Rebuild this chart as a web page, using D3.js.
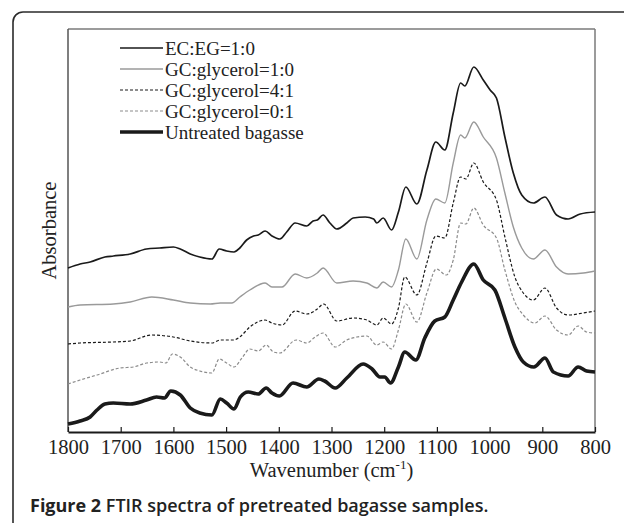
<!DOCTYPE html>
<html>
<head>
<meta charset="utf-8">
<script src="https://cdn.jsdelivr.net/npm/d3@7"></script>
<style>
  body { margin: 0; background: #fff; }
  svg { display: block; }
</style>
</head>
<body>
<script>
// FTIR spectra, absorbance in arbitrary units (curves stacked with offsets)
var seriesNames = ["EC:EG=1:0", "GC:glycerol=1:0", "GC:glycerol=4:1", "GC:glycerol=0:1", "Untreated bagasse"];

var ecegWn = [1800,1777,1758,1730,1714,1682,1651,1626,1600,1587,1568,1550,1527,1513,1499,1485,1474,1461,1448,1439,1426,1413,1398,1385,1369,1347,1335,1327,1316,1303,1290,1271,1259,1236,1220,1214,1202,1186,1173,1159,1138,1119,1102,1085,1069,1055,1047,1030,1012,999,987,971,955,939,917,895,873,851,828,800];
var ecegAbs = [1.64,1.68,1.70,1.75,1.76,1.78,1.83,1.84,1.85,1.83,1.78,1.75,1.73,1.83,1.81,1.80,1.84,1.92,1.96,1.97,2.01,1.96,1.93,2.00,2.09,2.06,2.11,2.12,2.17,2.09,2.03,2.09,2.14,2.15,2.13,2.09,2.14,2.02,2.20,2.45,2.28,2.62,2.90,2.82,3.19,3.49,3.46,3.65,3.52,3.42,3.34,2.95,2.59,2.37,2.29,2.35,2.17,2.13,2.18,2.20];

var gc10Wn = [1800,1777,1714,1682,1641,1600,1568,1530,1511,1489,1474,1455,1426,1413,1394,1369,1347,1327,1316,1290,1259,1233,1214,1202,1186,1173,1159,1138,1119,1102,1085,1069,1055,1047,1030,1012,987,971,955,939,917,895,873,851,822,800];
var gc10Abs = [1.25,1.27,1.28,1.30,1.35,1.32,1.29,1.28,1.29,1.29,1.35,1.42,1.49,1.45,1.45,1.58,1.54,1.59,1.64,1.49,1.51,1.49,1.44,1.50,1.45,1.62,1.93,1.73,2.12,2.33,2.29,2.69,2.97,2.94,3.10,2.95,2.74,2.39,2.05,1.84,1.73,1.82,1.65,1.58,1.59,1.61];

var gc41Wn = [1800,1777,1714,1682,1641,1600,1568,1527,1511,1486,1474,1455,1426,1413,1394,1369,1347,1327,1315,1290,1259,1233,1214,1202,1186,1173,1161,1138,1119,1102,1085,1069,1055,1045,1030,1012,987,971,952,936,917,895,873,851,822,800];
var gc41Abs = [0.88,0.89,0.90,0.91,0.97,0.95,0.91,0.89,0.92,0.92,0.95,1.05,1.12,1.09,1.07,1.21,1.18,1.23,1.28,1.11,1.14,1.12,1.07,1.14,1.08,1.24,1.55,1.37,1.69,1.96,1.94,2.29,2.55,2.53,2.69,2.50,2.32,1.95,1.55,1.39,1.32,1.44,1.24,1.17,1.19,1.21];

var gc01Wn = [1800,1777,1745,1701,1676,1651,1626,1614,1602,1587,1568,1550,1527,1513,1499,1485,1470,1455,1439,1424,1410,1398,1367,1347,1331,1316,1293,1271,1252,1233,1214,1202,1186,1173,1159,1138,1119,1101,1082,1069,1055,1045,1030,1012,987,971,952,936,914,895,873,851,832,816,800];
var gc01Abs = [0.48,0.52,0.57,0.64,0.65,0.69,0.70,0.69,0.78,0.75,0.65,0.61,0.59,0.73,0.69,0.65,0.74,0.83,0.81,0.87,0.80,0.79,0.92,0.89,0.95,0.99,0.85,0.92,0.95,0.96,0.87,0.90,0.83,1.02,1.28,1.10,1.39,1.63,1.57,1.72,2.09,2.08,2.24,2.07,1.94,1.62,1.30,1.17,1.09,1.16,1.02,0.97,1.06,1.00,0.99];

var rawWn = [1800,1777,1758,1745,1730,1714,1682,1651,1632,1617,1605,1587,1568,1550,1527,1511,1499,1485,1473,1458,1439,1424,1413,1399,1373,1347,1324,1313,1293,1271,1240,1223,1208,1199,1188,1173,1161,1140,1123,1104,1085,1069,1053,1030,1012,990,971,952,936,916,895,879,851,832,816,800];
var rawAbs = [0.08,0.11,0.15,0.22,0.28,0.29,0.28,0.32,0.35,0.34,0.41,0.37,0.24,0.19,0.17,0.33,0.29,0.23,0.35,0.40,0.38,0.44,0.39,0.36,0.49,0.45,0.53,0.51,0.44,0.54,0.68,0.63,0.55,0.55,0.49,0.65,0.80,0.72,0.94,1.11,1.15,1.32,1.50,1.68,1.52,1.42,1.14,0.85,0.70,0.65,0.74,0.60,0.56,0.65,0.61,0.60];

var xTicks = [1800,1700,1600,1500,1400,1300,1200,1100,1000,900,800];

var W = 624, H = 523;
var pLeft = 68, pRight = 595, pTop = 29, pBottom = 432;
var serif = "'Liberation Serif', 'Times New Roman', serif";

var svg = d3.select("body").append("svg").attr("width", W).attr("height", H);
svg.append("rect").attr("width", W).attr("height", H).attr("fill", "#fff");

// rounded figure border, runs off the right and bottom edge
svg.append("rect")
  .attr("x", 13).attr("y", 12).attr("width", 700).attr("height", 520)
  .attr("rx", 10)
  .attr("fill", "none").attr("stroke", "#2b2b2b").attr("stroke-width", 1.6);

var x = d3.scaleLinear().domain([1800, 800]).range([pLeft, pRight]);
var y = d3.scaleLinear().domain([0, 4.03]).range([pBottom, pTop]);

// plot frame
svg.append("line").attr("x1", pLeft).attr("y1", pTop).attr("x2", pRight).attr("y2", pTop)
  .attr("stroke", "#7a7a7a").attr("stroke-width", 1.5);
svg.append("line").attr("x1", pRight).attr("y1", pTop).attr("x2", pRight).attr("y2", pBottom)
  .attr("stroke", "#7a7a7a").attr("stroke-width", 1.5);
svg.append("line").attr("x1", pLeft).attr("y1", pTop).attr("x2", pLeft).attr("y2", pBottom)
  .attr("stroke", "#555").attr("stroke-width", 1.5);

var xAxis = d3.axisBottom(x).tickValues(xTicks).tickFormat(d3.format("d"))
  .tickSizeInner(-5).tickSizeOuter(0).tickPadding(7);
var gx = svg.append("g").attr("transform", "translate(0," + pBottom + ")").call(xAxis);
gx.select(".domain").attr("stroke", "#1a1a1a").attr("stroke-width", 2);
gx.selectAll(".tick line").attr("stroke", "#1a1a1a").attr("stroke-width", 1.2);
gx.selectAll(".tick text")
  .attr("font-family", serif)
  .attr("font-size", 20.5).attr("fill", "#222");

var line = d3.line()
  .x(function (d) { return x(d[0]); })
  .y(function (d) { return y(d[1]); })
  .curve(d3.curveMonotoneX);

var allWn = [ecegWn, gc10Wn, gc41Wn, gc01Wn, rawWn];
var allAbs = [ecegAbs, gc10Abs, gc41Abs, gc01Abs, rawAbs];
var colors = ["#1a1a1a", "#9a9a9a", "#1a1a1a", "#8c8c8c", "#1a1a1a"];
var widths = [1.7, 1.4, 1.2, 1.2, 3.6];
var dashes = [null, null, "3,2", "3,2", null];

var plot = svg.append("g");
allWn.forEach(function (wn, i) {
  var pts = wn.map(function (w, j) { return [w, allAbs[i][j]]; });
  plot.append("path")
    .attr("d", line(pts))
    .attr("fill", "none")
    .attr("stroke", colors[i])
    .attr("stroke-width", widths[i])
    .attr("stroke-dasharray", dashes[i])
    .attr("stroke-linejoin", "round");
});

// legend
var legY = 48, legStep = 21;
var leg = svg.append("g");
seriesNames.forEach(function (name, i) {
  var ly = legY + legStep * i;
  leg.append("line")
    .attr("x1", 120).attr("x2", 163).attr("y1", ly).attr("y2", ly)
    .attr("stroke", colors[i]).attr("stroke-width", widths[i])
    .attr("stroke-dasharray", dashes[i]);
  leg.append("text")
    .attr("x", 165).attr("y", ly)
    .attr("dominant-baseline", "central")
    .attr("font-family", serif)
    .attr("font-size", 19).attr("fill", "#222")
    .text(name);
});

// axis titles
var xt = svg.append("text")
  .attr("x", (pLeft + pRight) / 2).attr("y", 477)
  .attr("text-anchor", "middle")
  .attr("font-family", serif)
  .attr("font-size", 20.5).attr("fill", "#222");
xt.append("tspan").text("Wavenumber (cm");
xt.append("tspan").attr("font-size", 13).attr("dy", -8).text("-1");
xt.append("tspan").attr("dy", 8).text(")");

svg.append("text")
  .attr("transform", "translate(56," + (pTop + pBottom) / 2 + ") rotate(-90)")
  .attr("text-anchor", "middle")
  .attr("font-family", serif)
  .attr("font-size", 20.5).attr("fill", "#222")
  .text("Absorbance");

// caption
var cap = svg.append("text")
  .attr("x", 30).attr("y", 512)
  .attr("font-family", "'Open Sans', 'Noto Sans', sans-serif")
  .attr("font-size", 18).attr("fill", "#222");
cap.append("tspan").attr("font-weight", "bold").text("Figure 2");
cap.append("tspan").attr("font-weight", 600).text(" FTIR spectra of pretreated bagasse samples.");
</script>
</body>
</html>
